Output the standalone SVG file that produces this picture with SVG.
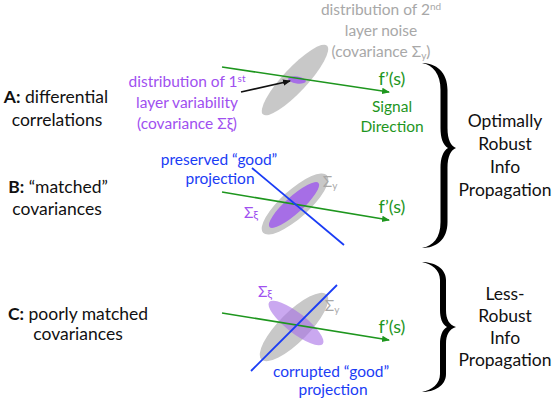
<svg xmlns="http://www.w3.org/2000/svg" width="554" height="405" viewBox="0 0 554 405">
<defs>
<marker id="ag" markerWidth="8" markerHeight="8" refX="7" refY="4" orient="auto" markerUnits="userSpaceOnUse"><path d="M0,0.8 L8,4 L0,7.2 Z" fill="#1e961e"/></marker>
<marker id="ak" markerWidth="8" markerHeight="8" refX="7" refY="4" orient="auto" markerUnits="userSpaceOnUse"><path d="M0,0.8 L8,4 L0,7.2 Z" fill="#111"/></marker>
</defs>
<style>
text{font-family:Lato,"Open Sans","Liberation Sans",sans-serif}
.lbl{font-size:17.5px;fill:#111;text-anchor:middle}
.big{font-size:17.5px;fill:#111;text-anchor:middle}
.sm{font-size:15.5px;text-anchor:middle}
.pur{fill:#a050f0}
.gry{fill:#a8a8a8}
.grn{fill:#1e961e}
.blu{fill:#1a3cf5}
.fs{font-size:18px;fill:#1e961e;text-anchor:middle}
.sig{stroke:#1e961e;stroke-width:1.6;fill:none;marker-end:url(#ag)}
.prj{stroke:#1a3cf5;stroke-width:1.8;fill:none}
.eg{fill:#c8c8c8}
.ep{fill:#a66ee6}
.brace{fill:#000}
</style>
<rect width="554" height="405" fill="#fff"/>

<g id="labels">
<text class="lbl" x="56" y="103"><tspan font-weight="bold">A:</tspan> differential</text>
<text class="lbl" x="57" y="126">correlations</text>
<text class="lbl" x="58" y="193"><tspan font-weight="bold">B:</tspan> “matched”</text>
<text class="lbl" x="57" y="215">covariances</text>
<text class="lbl" x="78" y="320"><tspan font-weight="bold">C:</tspan> poorly matched</text>
<text class="lbl" x="78" y="340">covariances</text>
</g>

<g id="panelA">
<ellipse class="eg" cx="295" cy="80" rx="47" ry="12" transform="rotate(-47 295 80)"/>
<ellipse class="ep" cx="297" cy="80" rx="9" ry="3.5" transform="rotate(8 297 80)"/>
</g>
<g id="panelB">
<ellipse class="eg" cx="295" cy="204" rx="43" ry="14" transform="rotate(-42 295 204)"/>
<ellipse class="ep" cx="294" cy="205" rx="33" ry="8.5" transform="rotate(-42 294 205)"/>
</g>
<g id="panelC">
<ellipse class="eg" cx="294" cy="327" rx="46" ry="15" transform="rotate(-45 294 327)"/>
<ellipse class="ep" cx="296" cy="323" rx="34" ry="10" opacity="0.6" transform="rotate(38 296 323)"/>
</g>

<g id="connectors">
<line class="sig" x1="222" y1="67" x2="389" y2="92"/>
<line x1="241" y1="92" x2="290" y2="81" stroke="#111" stroke-width="1.6" marker-end="url(#ak)"/>
<line class="sig" x1="222" y1="192" x2="389" y2="220"/>
<line class="prj" x1="252" y1="168" x2="344" y2="245"/>
<line class="sig" x1="222" y1="313" x2="389" y2="340"/>
<line class="prj" x1="251" y1="371" x2="337" y2="285"/>
</g>

<g id="textA">
<text class="sm gry" x="381" y="15">distribution of 2<tspan font-size="10" dy="-5">nd</tspan></text>
<text class="sm gry" x="381" y="36">layer noise</text>
<text class="sm gry" x="381" y="57">(covariance Σ<tspan font-size="10" dy="2">y</tspan><tspan dy="-2">)</tspan></text>
<text class="sm pur" x="187" y="87">distribution of 1<tspan font-size="10" dy="-5">st</tspan></text>
<text class="sm pur" x="187" y="108">layer variability</text>
<text class="sm pur" x="187" y="129">(covariance Σξ)</text>
<text class="fs" x="392" y="85">f’(s)</text>
<text class="sm grn" x="392" y="112" font-size="15">Signal</text>
<text class="sm grn" x="392" y="132" font-size="15">Direction</text>
</g>

<g id="textB">
<text class="sm blu" x="219" y="165">preserved “good”</text>
<text class="sm blu" x="220" y="184">projection</text>
<text class="sm gry" x="330" y="187" text-anchor="start">Σ<tspan font-size="10" dy="2">y</tspan></text>
<text class="sm pur" x="251" y="218" text-anchor="start">Σ<tspan font-size="12" dy="1">ξ</tspan></text>
<text class="fs" x="392" y="213">f’(s)</text>
</g>

<g id="textC">
<text class="sm pur" x="265" y="297" text-anchor="start">Σ<tspan font-size="12" dy="1">ξ</tspan></text>
<text class="sm gry" x="332" y="311" text-anchor="start">Σ<tspan font-size="10" dy="2">y</tspan></text>
<text class="fs" x="392" y="333">f’(s)</text>
<text class="sm blu" x="331" y="377">corrupted “good”</text>
<text class="sm blu" x="333" y="395">projection</text>
</g>

<g id="brace1">
<path class="brace" d="M422,63 C436,63 447.5,72 447.5,90 L447.5,128 C447.5,140 451,146 456,148 C451,150 447.5,156 447.5,168 L447.5,222 C447.5,240 436,248 422,248 C433,246 440.5,238 440.5,222 L440.5,168 C440.5,158 443,151 448,148 C443,145 440.5,138 440.5,128 L440.5,90 C440.5,74 433,65 422,63 Z"/>
<text class="big" x="505" y="127">Optimally</text>
<text class="big" x="505" y="150">Robust</text>
<text class="big" x="505" y="173">Info</text>
<text class="big" x="505" y="196">Propagation</text>
</g>

<g id="brace2">
<path class="brace" d="M422,262 C434,262 446,268 446,280 L446,310 C446,319 449,325 456,327 C449,329 446,335 446,344 L446,374 C446,386 434,392 422,392 C432,390 440,384 440,374 L440,344 C440,336 442,330 447,327 C442,324 440,318 440,310 L440,280 C440,270 432,264 422,262 Z"/>
<text class="big" x="505" y="300">Less-</text>
<text class="big" x="505" y="322">Robust</text>
<text class="big" x="505" y="344">Info</text>
<text class="big" x="505" y="366">Propagation</text>
</g>
</svg>
